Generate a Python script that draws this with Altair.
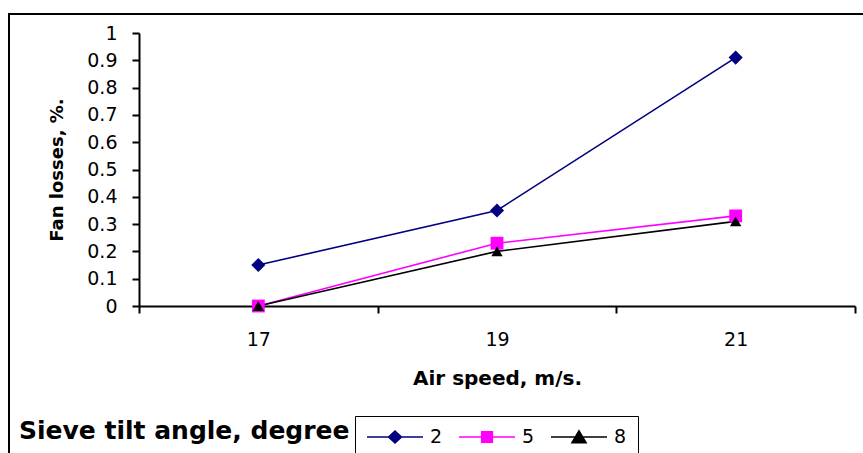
import altair as alt
import pandas as pd

# ---- data ----
speeds = [17, 19, 21]
series_names = ["2", "5", "8"]
loss_2 = [0.15, 0.35, 0.91]
loss_5 = [0.0, 0.23, 0.33]
loss_8 = [0.0, 0.20, 0.31]
series_colors = ["#000080", "#FF00FF", "#000000"]
marker_shapes = ["diamond", "square", "triangle-up"]
marker_sizes = [200, 130, 210]
x_tick_values = [16, 17, 18, 19, 20, 21, 22]
y_tick_values = [0, 0.1, 0.2, 0.3, 0.4, 0.5, 0.6, 0.7, 0.8, 0.9, 1.0]
legend_title = "Sieve tilt angle, degree"

# legend symbols: a line segment with the series marker on it
legend_paths = [
    "M-1,0L1,0M0,-0.21L0.23,0L0,0.21L-0.23,0Z",
    "M-1,0L1,0M-0.19,-0.19L0.19,-0.19L0.19,0.19L-0.19,0.19Z",
    "M-1,0L1,0M0,-0.22L0.25,0.2L-0.25,0.2Z",
]

rows = []
for name, vals in zip(series_names, [loss_2, loss_5, loss_8]):
    for s, v in zip(speeds, vals):
        rows.append({"series": name, "speed": s, "loss": v})
df = pd.DataFrame(rows)

FONT = "DejaVu Sans"

x_enc = alt.X(
    "speed:Q",
    scale=alt.Scale(domain=[16, 22], nice=False, zero=False),
    axis=alt.Axis(
        title="Air speed, m/s.",
        values=x_tick_values,
        labelExpr="datum.value % 2 == 1 ? datum.label : ''",
        tickOpacity={"condition": {"test": "datum.value % 2 == 1", "value": 0}, "value": 1},
        grid=False,
        tickSize=7,
        tickWidth=2,
        tickColor="black",
        domainWidth=2,
        domainColor="black",
        labelFont=FONT,
        labelFontSize=19,
        labelColor="black",
        labelPadding=17,
        labelOverlap=False,
        labelFlush=False,
        titleFont=FONT,
        titleFontSize=20,
        titleFontWeight="bold",
        titleColor="black",
        titlePadding=19,
    ),
)

y_enc = alt.Y(
    "loss:Q",
    scale=alt.Scale(domain=[0, 1], nice=False),
    axis=alt.Axis(
        title="Fan losses, %.",
        values=y_tick_values,
        format=".1~f",
        grid=False,
        tickSize=7,
        tickWidth=2,
        tickColor="black",
        domainWidth=2,
        domainColor="black",
        labelFont=FONT,
        labelFontSize=19,
        labelColor="black",
        labelPadding=15,
        labelOverlap=False,
        titleFont=FONT,
        titleFontSize=18,
        titleFontWeight="bold",
        titleColor="black",
        titlePadding=20,
    ),
)

color_scale = alt.Scale(domain=series_names, range=series_colors)

frame = alt.Chart(pd.DataFrame({"k": [0]})).mark_rect(
    filled=False, stroke="black", strokeWidth=2
).encode(
    x=alt.value(-130), x2=alt.value(740), y=alt.value(-19), y2=alt.value(440)
)

lines = alt.Chart(df).mark_line(strokeWidth=1.6).encode(
    x=x_enc,
    y=y_enc,
    color=alt.Color("series:N", scale=color_scale, legend=None),
)

points = alt.Chart(df).mark_point(filled=True, opacity=1).encode(
    x=x_enc,
    y=y_enc,
    color=alt.Color("series:N", scale=color_scale, legend=None),
    shape=alt.Shape("series:N", scale=alt.Scale(domain=series_names, range=marker_shapes), legend=None),
    size=alt.Size("series:N", scale=alt.Scale(domain=series_names, range=marker_sizes), legend=None),
)

leg = alt.Legend(
    title=None,
    orient="none",
    legendX=216,
    legendY=383,
    direction="horizontal",
    symbolSize=3136,
    symbolStrokeWidth=1.6,
    symbolOpacity=1,
    clipHeight=20,
    labelFont=FONT,
    labelFontSize=19,
    labelColor="black",
    labelOffset=6,
    columnPadding=15,
    padding=11,
    strokeColor="black",
    fillColor="white",
)

legend_layer = alt.Chart(df).transform_filter("datum.loss < 0").mark_point(filled=True).encode(
    x=x_enc,
    y=y_enc,
    fill=alt.Fill("series:N", scale=color_scale, legend=leg),
    stroke=alt.Stroke("series:N", scale=color_scale, legend=leg),
    shape=alt.Shape("series:N", scale=alt.Scale(domain=series_names, range=legend_paths), legend=leg),
)

title_text = alt.Chart(pd.DataFrame({"t": [legend_title]})).mark_text(
    align="left", baseline="alphabetic", font=FONT, fontSize=25, fontWeight="bold", color="black"
).encode(
    x=alt.value(-120), y=alt.value(406), text="t:N"
)

chart = alt.layer(frame, title_text, lines, points, legend_layer).resolve_scale(
    color="independent", shape="independent", size="independent", fill="independent", stroke="independent"
).properties(
    width=716,
    height=273,
    autosize=alt.AutoSizeParams(type="none"),
    padding={"left": 139, "top": 33, "right": 8, "bottom": 147},
    background="white",
).configure_view(stroke=None)

chart.save("out.html", embed_options={"renderer": "svg", "actions": False})
